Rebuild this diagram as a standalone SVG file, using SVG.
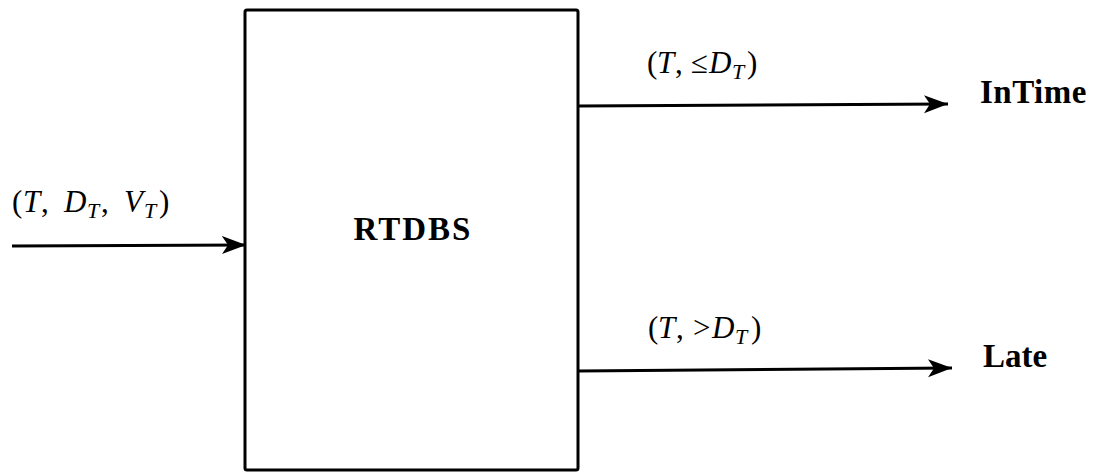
<svg xmlns="http://www.w3.org/2000/svg" width="1094" height="474" viewBox="0 0 1094 474">
  <style>
    .box { fill: #fff; stroke: #000; stroke-width: 3; }
    .wire { fill: none; stroke: #000; stroke-width: 3; }
    .title { font-family: "Liberation Serif", "Times New Roman", serif; font-weight: bold; font-size: 33px; fill: #000; }
    .math { font-family: "Liberation Serif", "Times New Roman", serif; font-size: 31px; fill: #000; }
    .it { font-style: italic; }
    .sub { font-style: italic; font-size: 22px; }
  </style>
  <defs>
    <marker id="arrow" markerUnits="userSpaceOnUse" markerWidth="26" markerHeight="20" refX="24" refY="10" orient="auto">
      <path d="M0,1 L24,10 L0,19 L6,10 z" fill="#000"/>
    </marker>
  </defs>

  <!-- central system block -->
  <g id="rtdbs">
    <rect class="box" x="245" y="10" width="333" height="460" rx="2"/>
    <text class="title" x="413" y="240" text-anchor="middle" letter-spacing="2">RTDBS</text>
  </g>

  <!-- outcome labels -->
  <g id="intime">
    <text class="title" x="980" y="103" letter-spacing="0.5">InTime</text>
  </g>
  <g id="late">
    <text class="title" x="983" y="367">Late</text>
  </g>

  <!-- flows in and out of the block -->
  <g id="connectors">
    <line class="wire" x1="12" y1="246" x2="246" y2="245" marker-end="url(#arrow)"/>
    <line class="wire" x1="578" y1="106" x2="948" y2="104" marker-end="url(#arrow)"/>
    <line class="wire" x1="578" y1="371" x2="952" y2="368" marker-end="url(#arrow)"/>

    <!-- (T, D_T, V_T) -->
    <text class="math" y="212"><tspan x="12">(</tspan><tspan class="it" x="23">T</tspan><tspan x="41">,</tspan><tspan class="it" x="64">D</tspan><tspan class="sub" x="87" dy="6">T</tspan><tspan x="101" dy="-6">,</tspan><tspan class="it" x="124">V</tspan><tspan class="sub" x="144" dy="6">T</tspan><tspan x="159" dy="-6">)</tspan></text>
    <!-- (T, ≤D_T) -->
    <text class="math" y="73"><tspan x="647">(</tspan><tspan class="it" x="657">T</tspan><tspan x="675">,</tspan><tspan x="691">≤</tspan><tspan class="it" x="709">D</tspan><tspan class="sub" x="732" dy="6">T</tspan><tspan x="747" dy="-6">)</tspan></text>
    <!-- (T, >D_T) -->
    <text class="math" y="338"><tspan x="648">(</tspan><tspan class="it" x="658">T</tspan><tspan x="676">,</tspan><tspan x="693">&gt;</tspan><tspan class="it" x="712">D</tspan><tspan class="sub" x="735" dy="6">T</tspan><tspan x="751" dy="-6">)</tspan></text>
  </g>
</svg>
